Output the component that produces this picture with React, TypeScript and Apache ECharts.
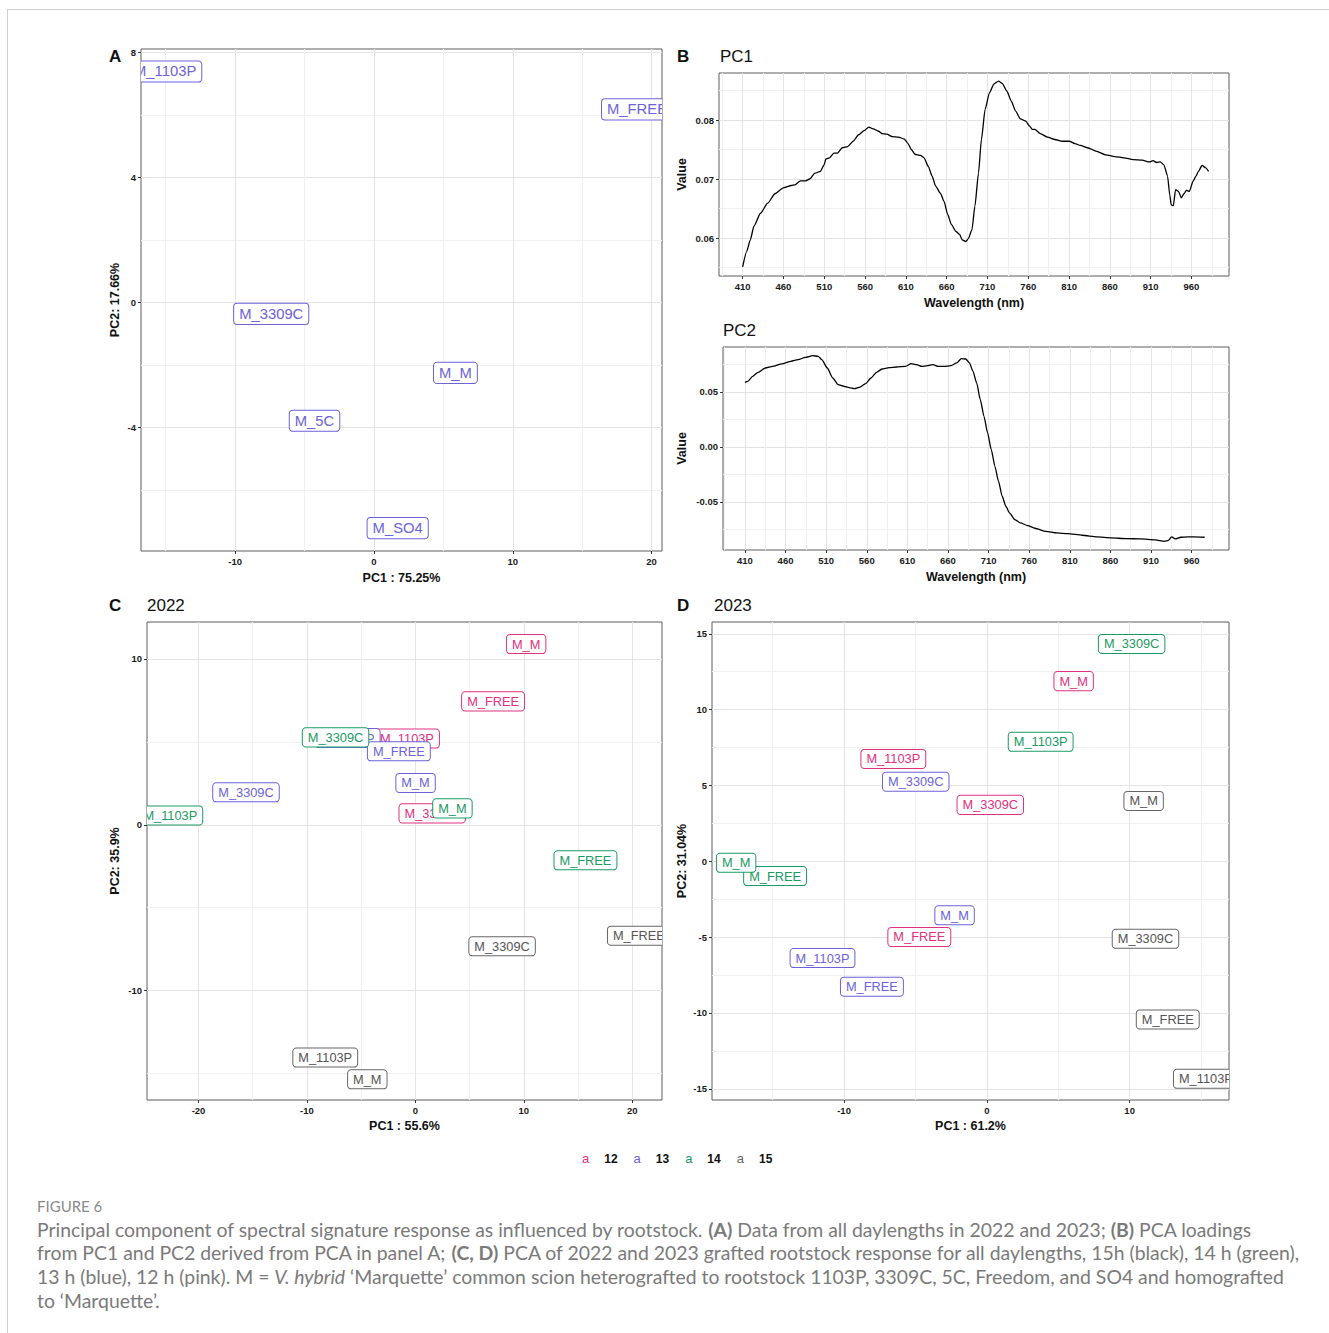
import React, { useEffect, useRef } from 'react';
import * as echarts from 'echarts';

// ---------------- DATA ----------------
const daylengths = ['12', '13', '14', '15'];
const dayColors = ['#E0307F', '#6C62D9', '#1B9A64', '#666666'];
const panelAColor = '#6C62D9';

// Panel A (all daylengths)
const labelsA = ['M_1103P', 'M_FREE', 'M_3309C', 'M_M', 'M_5C', 'M_SO4'];
const pc1A = [-15.04, 18.95, -7.4, 5.87, -4.28, 1.71];
const pc2A = [7.4, 6.19, -0.36, -2.25, -3.78, -7.22];

// Panel C (2022), one list per daylength (12,13,14,15)
const labelsC = [
  ['M_M', 'M_FREE', 'M_1103P', 'M_3309C'],
  ['M_1103P', 'M_FREE', 'M_M', 'M_3309C'],
  ['M_3309C', 'M_1103P', 'M_M', 'M_FREE'],
  ['M_FREE', 'M_3309C', 'M_1103P', 'M_M'],
];
const pc1C = [
  [10.22, 7.17, -0.77, 1.56],
  [-6.24, -1.52, 0.02, -15.62],
  [-7.36, -22.6, 3.42, 15.69],
  [20.62, 8.0, -8.31, -4.43],
];
const pc2C = [
  [10.9, 7.44, 5.2, 0.69],
  [5.23, 4.43, 2.52, 1.96],
  [5.27, 0.56, 0.99, -2.14],
  [-6.69, -7.33, -14.04, -15.35],
];

// Panel D (2023)
const labelsD = [
  ['M_M', 'M_1103P', 'M_3309C', 'M_FREE'],
  ['M_3309C', 'M_M', 'M_1103P', 'M_FREE'],
  ['M_3309C', 'M_1103P', 'M_FREE', 'M_M'],
  ['M_M', 'M_3309C', 'M_FREE', 'M_1103P'],
];
const pc1D = [
  [6.08, -6.55, 0.24, -4.73],
  [-4.98, -2.26, -11.51, -8.05],
  [10.14, 3.77, -14.83, -17.56],
  [10.98, 11.11, 12.67, 15.34],
];
const pc2D = [
  [11.88, 6.75, 3.72, -4.99],
  [5.25, -3.56, -6.38, -8.27],
  [14.33, 7.88, -0.97, -0.1],
  [3.98, -5.11, -10.43, -14.34],
];

// Panel B loadings
const wlPC1 = [410, 414.9, 419.4, 423.8, 431.8, 440.7, 449.6, 459.9, 469.7, 474, 480.8, 487.5, 492, 498.6, 505.3, 509.8, 512, 516.5, 521.8, 526.3, 532, 538.7, 545.4, 552, 558.8, 564.6, 569.9, 576.6, 581, 586.8, 593, 601, 607.8, 612.2, 616.7, 621.1, 627.8, 632.3, 637.6, 642.1, 646.5, 652.3, 656.8, 661.2, 665.7, 671.5, 675.9, 679, 683.5, 686.6, 691, 694.6, 699, 702.6, 707.1, 712.4, 717.8, 723.6, 728, 733.8, 739.2, 744.5, 750.3, 757, 761.4, 765, 768, 774.8, 783.7, 792.6, 801.5, 810.4, 817.1, 823.8, 832.7, 843.8, 855, 866, 877.3, 888.4, 899.5, 908.4, 912.9, 917.3, 921.8, 926.2, 930.7, 933.4, 935.2, 937.8, 940.5, 944.1, 947.6, 950.8, 953.9, 957.4, 961.9, 965.5, 968.6, 973, 977.5, 981];
const valPC1 = [0.0551, 0.0577, 0.0597, 0.062, 0.0642, 0.0659, 0.0675, 0.0685, 0.0689, 0.069, 0.0697, 0.0697, 0.07, 0.071, 0.0713, 0.0724, 0.0734, 0.0736, 0.0744, 0.0744, 0.0753, 0.0755, 0.0764, 0.0775, 0.0782, 0.0788, 0.0785, 0.0781, 0.0777, 0.0776, 0.0772, 0.0771, 0.0768, 0.0761, 0.075, 0.0742, 0.074, 0.0736, 0.0721, 0.0705, 0.0688, 0.0676, 0.0662, 0.064, 0.0623, 0.0611, 0.0606, 0.0597, 0.0594, 0.0599, 0.0614, 0.0654, 0.071, 0.0767, 0.0818, 0.0846, 0.0861, 0.0866, 0.0862, 0.0849, 0.0832, 0.0815, 0.0802, 0.0798, 0.079, 0.0784, 0.0784, 0.0777, 0.0771, 0.0767, 0.0764, 0.0764, 0.076, 0.0757, 0.0753, 0.0747, 0.0741, 0.0738, 0.0736, 0.0733, 0.0732, 0.0729, 0.0731, 0.0728, 0.0729, 0.0724, 0.0705, 0.0673, 0.0656, 0.0655, 0.0682, 0.0679, 0.0668, 0.0675, 0.0681, 0.0679, 0.0696, 0.0705, 0.0713, 0.0723, 0.0719, 0.0713];
const wlPC2 = [410, 413.6, 419.4, 426.2, 435.1, 444.1, 455.3, 466.5, 475.5, 484.5, 493.4, 500.2, 504.7, 511.4, 518.1, 524.8, 531.6, 538.3, 545, 551.8, 558.5, 565.2, 572, 578.7, 587.7, 596.6, 607.8, 614.6, 621.3, 628, 634.8, 641.5, 648.2, 655, 663.9, 670.7, 676.5, 681.9, 686.4, 690.8, 695.3, 699.8, 704.3, 708.8, 713.3, 717.8, 722.2, 726.7, 731.2, 735.7, 742.4, 749.2, 758.1, 767.1, 780.6, 794, 807.5, 825.4, 843.4, 861.3, 879.3, 897.2, 915.2, 926.4, 930.9, 935.4, 939.8, 946.6, 955.5, 962.3, 976];
const valPC2 = [0.0588, 0.0597, 0.0642, 0.0679, 0.0718, 0.0733, 0.0755, 0.0779, 0.0794, 0.0815, 0.083, 0.0824, 0.0794, 0.0718, 0.0627, 0.0567, 0.0552, 0.0539, 0.053, 0.0545, 0.0576, 0.0627, 0.0679, 0.0709, 0.0721, 0.0727, 0.0733, 0.0758, 0.0748, 0.0733, 0.0739, 0.0748, 0.0733, 0.0733, 0.0739, 0.0764, 0.0803, 0.08, 0.0764, 0.0688, 0.0582, 0.043, 0.0279, 0.0127, -0.0024, -0.0176, -0.0312, -0.0448, -0.0539, -0.06, -0.0661, -0.0691, -0.0715, -0.0739, -0.0767, -0.0782, -0.0788, -0.0803, -0.0818, -0.0827, -0.0833, -0.0836, -0.0845, -0.0858, -0.0852, -0.0818, -0.0836, -0.0821, -0.0818, -0.0818, -0.0821];

// Tick values
const ticksA_x = [-10, 0, 10, 20];
const minorA_x = [-15, -5, 5, 15];
const ticksA_y = [-4, 0, 4, 8];
const minorA_y = [-6, -2, 2, 6];
const ticksB_x = [410, 460, 510, 560, 610, 660, 710, 760, 810, 860, 910, 960];
const minorB_x = [385, 435, 485, 535, 585, 635, 685, 735, 785, 835, 885, 935, 985];
const ticksB1_y = [0.06, 0.07, 0.08];
const minorB1_y = [0.055, 0.065, 0.075, 0.085];
const ticksB2_y = [-0.05, 0, 0.05];
const minorB2_y = [-0.075, -0.025, 0.025, 0.075];
const ticksC_x = [-20, -10, 0, 10, 20];
const minorC_x = [-15, -5, 5, 15];
const ticksC_y = [-10, 0, 10];
const minorC_y = [-15, -5, 5];
const ticksD_x = [-10, 0, 10];
const minorD_x = [-15, -5, 5, 15];
const ticksD_y = [-15, -10, -5, 0, 5, 10, 15];
const minorD_y = [-12.5, -7.5, -2.5, 2.5, 7.5, 12.5];

const captionLines = [
  'Principal component of spectral signature response as influenced by rootstock. {b|(A)} Data from all daylengths in 2022 and 2023; {b|(B)} PCA loadings',
  'from PC1 and PC2 derived from PCA in panel A; {b|(C, D)} PCA of 2022 and 2023 grafted rootstock response for all daylengths, 15h (black), 14 h (green),',
  '13 h (blue), 12 h (pink). M = {i|V. hybrid} \u2018Marquette\u2019 common scion heterografted to rootstock 1103P, 3309C, 5C, Freedom, and SO4 and homografted',
  'to \u2018Marquette\u2019.',
];

// ---------------- LAYOUT / STYLE ----------------
const FONT = "'Liberation Sans', Arial, Helvetica, sans-serif";
const CAPFONT = "Lato, 'Open Sans', sans-serif";
const CAPSIZE = 19.4;

type PanelSpec = {
  grid: { left: number; top: number; width: number; height: number };
  xMin: number; xMax: number; xTicks: number[]; xMinor: number[]; xName: string; xGap: number;
  yMin: number; yMax: number; yTicks: number[]; yMinor: number[]; yName: string; yGap: number;
  fmt?: (v: number) => string;
};

const panels: PanelSpec[] = [
  { grid: { left: 141, top: 49, width: 521, height: 502 },
    xMin: -16.78, xMax: 20.75, xTicks: ticksA_x, xMinor: minorA_x, xName: 'PC1 : 75.25%', xGap: 20,
    yMin: -7.95, yMax: 8.12, yTicks: ticksA_y, yMinor: minorA_y, yName: 'PC2: 17.66%', yGap: 20 },
  { grid: { left: 719, top: 73, width: 510, height: 203 },
    xMin: 381, xMax: 1006, xTicks: ticksB_x, xMinor: minorB_x, xName: 'Wavelength (nm)', xGap: 20,
    yMin: 0.05356, yMax: 0.08797, yTicks: ticksB1_y, yMinor: minorB1_y, yName: 'Value', yGap: 31,
    fmt: (v) => v.toFixed(2) },
  { grid: { left: 723, top: 347, width: 506, height: 203 },
    xMin: 383, xMax: 1006, xTicks: ticksB_x, xMinor: minorB_x, xName: 'Wavelength (nm)', xGap: 20,
    yMin: -0.0937, yMax: 0.0909, yTicks: ticksB2_y, yMinor: minorB2_y, yName: 'Value', yGap: 35,
    fmt: (v) => v.toFixed(2) },
  { grid: { left: 147, top: 622, width: 515, height: 478 },
    xMin: -24.75, xMax: 22.75, xTicks: ticksC_x, xMinor: minorC_x, xName: 'PC1 : 55.6%', xGap: 19,
    yMin: -16.6, yMax: 12.23, yTicks: ticksC_y, yMinor: minorC_y, yName: 'PC2: 35.9%', yGap: 26 },
  { grid: { left: 712, top: 622, width: 517, height: 478 },
    xMin: -19.25, xMax: 16.96, xTicks: ticksD_x, xMinor: minorD_x, xName: 'PC1 : 61.2%', xGap: 19,
    yMin: -15.74, yMax: 15.78, yTicks: ticksD_y, yMinor: minorD_y, yName: 'PC2: 31.04%', yGap: 24 },
];

const tickLabelStyle = { fontSize: 9.5, fontWeight: 'bold' as const, color: '#1a1a1a', fontFamily: FONT };
const axisNameStyle = { fontSize: 12.5, fontWeight: 'bold' as const, color: '#111', fontFamily: FONT };

// helper axis drawing only grid lines at given values
function gridAxis(g: number, min: number, max: number, pos: string, values: number[], color: string) {
  return {
    type: 'value', gridIndex: g, min, max, position: pos,
    axisLine: { show: false, onZero: false },
    axisTick: { show: false, customValues: values },
    axisLabel: { show: false, customValues: values },
    splitLine: { show: true, lineStyle: { color, width: 1 } }, z: 0,
  };
}

function buildAxes() {
  const grids: any[] = [];
  const xAxes: any[] = [];
  const yAxes: any[] = [];
  panels.forEach((p, g) => {
    grids.push({ ...p.grid, show: true, borderColor: '#5c5c5c', borderWidth: 1, backgroundColor: 'transparent', containLabel: false });
    // main x: ticks + labels + title
    xAxes.push({
      type: 'value', gridIndex: g, min: p.xMin, max: p.xMax, position: 'bottom',
      axisLine: { show: false, onZero: false },
      axisTick: { show: true, length: 3, lineStyle: { color: '#333' }, customValues: p.xTicks },
      axisLabel: { ...tickLabelStyle, margin: 5, customValues: p.xTicks },
      splitLine: { show: false },
      name: p.xName, nameLocation: 'middle', nameGap: p.xGap, nameTextStyle: axisNameStyle, z: 2,
    });
    xAxes.push(gridAxis(g, p.xMin, p.xMax, 'bottom', p.xTicks, '#E4E4E4'));
    xAxes.push(gridAxis(g, p.xMin, p.xMax, 'bottom', p.xMinor, '#F0F0F0'));
    yAxes.push({
      type: 'value', gridIndex: g, min: p.yMin, max: p.yMax, position: 'left',
      axisLine: { show: false, onZero: false },
      axisTick: { show: true, length: 3, lineStyle: { color: '#333' }, customValues: p.yTicks },
      axisLabel: { ...tickLabelStyle, margin: 5, customValues: p.yTicks, formatter: p.fmt },
      splitLine: { show: false },
      name: p.yName, nameLocation: 'middle', nameGap: p.yGap, nameRotate: 90, nameTextStyle: axisNameStyle, z: 2,
    });
    yAxes.push(gridAxis(g, p.yMin, p.yMax, 'left', p.yTicks, '#E4E4E4'));
    yAxes.push(gridAxis(g, p.yMin, p.yMax, 'left', p.yMinor, '#F0F0F0'));
  });
  return { grids, xAxes, yAxes };
}

function labelSeries(name: string, panel: number, xs: number[], ys: number[], labels: string[], color: string, big: boolean) {
  const fontSize = big ? 14.8 : 12.8;
  const textColor = color === '#666666' ? '#555555' : color;
  return {
    type: 'custom', name, xAxisIndex: panel * 3, yAxisIndex: panel * 3, clip: true, z: 5,
    data: xs.map((x, i) => [x, ys[i]]),
    renderItem: (params: any, api: any) => {
      const pt = api.coord([api.value(0), api.value(1)]);
      return {
        type: 'text', x: pt[0], y: pt[1],
        style: {
          text: labels[params.dataIndex],
          fill: textColor,
          font: `${fontSize}px ${FONT}`,
          align: 'center', verticalAlign: 'middle',
          lineHeight: big ? 15 : 13.5,
          backgroundColor: '#ffffff',
          borderColor: color, borderWidth: 1, borderRadius: 3,
          padding: big ? [2.6, 5] : [2.3, 5],
        },
      };
    },
  };
}

function txt(x: number, y: number, text: string, size: number, weight = 'normal', color = '#111') {
  return { type: 'text', x, y, silent: true, style: { text, fill: color, font: `${weight} ${size}px ${FONT}`, align: 'left', verticalAlign: 'middle' } };
}

function buildOption() {
  const { grids, xAxes, yAxes } = buildAxes();
  const series: any[] = [];
  series.push(labelSeries('A', 0, pc1A, pc2A, labelsA, panelAColor, true));
  series.push({
    type: 'line', name: 'PC1 loading', xAxisIndex: 3, yAxisIndex: 3, data: wlPC1.map((w, i) => [w, valPC1[i]]),
    symbol: 'none', smooth: 0.2, smoothMonotone: 'x', lineStyle: { color: '#000', width: 1.3 }, silent: true, z: 3,
  });
  series.push({
    type: 'line', name: 'PC2 loading', xAxisIndex: 6, yAxisIndex: 6, data: wlPC2.map((w, i) => [w, valPC2[i]]),
    symbol: 'none', smooth: 0.2, smoothMonotone: 'x', lineStyle: { color: '#000', width: 1.3 }, silent: true, z: 3,
  });
  daylengths.forEach((d, k) => {
    series.push(labelSeries(d, 3, pc1C[k], pc2C[k], labelsC[k], dayColors[k], false));
  });
  daylengths.forEach((d, k) => {
    series.push(labelSeries(d, 4, pc1D[k], pc2D[k], labelsD[k], dayColors[k], false));
  });

  const rich: any = { s: { width: 15 }, n: { fontWeight: 'bold', fontSize: 12, color: '#111', fontFamily: FONT } };
  daylengths.forEach((d, k) => { rich['c' + d] = { color: dayColors[k], fontSize: 13, fontFamily: FONT }; });

  const capBase = `${CAPSIZE}px ${CAPFONT}`;
  const capRich = {
    b: { font: `bold ${CAPSIZE}px ${CAPFONT}`, fill: '#7a7a7a' },
    i: { font: `italic ${CAPSIZE}px ${CAPFONT}`, fill: '#7a7a7a' },
  };

  const graphics: any[] = [
    txt(109, 56, 'A', 17, 'bold'),
    txt(677, 56, 'B', 17, 'bold'),
    txt(720, 56, 'PC1', 17),
    txt(723, 330, 'PC2', 17),
    txt(109, 605, 'C', 17, 'bold'),
    txt(147, 605, '2022', 17),
    txt(677, 605, 'D', 17, 'bold'),
    txt(714, 605, '2023', 17),
    { type: 'text', x: 37, y: 1206, silent: true, style: { text: 'FIGURE 6', fill: '#8a8a8a', font: `15px ${CAPFONT}`, verticalAlign: 'middle' } },
  ];
  captionLines.forEach((line, i) => {
    graphics.push({ type: 'text', x: 37, y: 1229 + i * 23.7, silent: true,
      style: { text: line, fill: '#7a7a7a', font: capBase, verticalAlign: 'middle', rich: capRich } });
  });

  return {
    animation: false,
    backgroundColor: 'transparent',
    grid: grids,
    xAxis: xAxes,
    yAxis: yAxes,
    legend: {
      data: daylengths, left: 572, top: 1147, orient: 'horizontal',
      itemWidth: 0, itemHeight: 0, itemGap: 11, icon: 'rect', selectedMode: false,
      formatter: (name: string) => `{c${name}|a}{s|}{n|${name}}`,
      textStyle: { rich },
    },
    graphic: { elements: graphics },
    series,
  };
}

export default function App() {
  const ref = useRef<HTMLDivElement>(null);
  useEffect(() => {
    const chart = echarts.init(ref.current!, null, { renderer: 'svg' });
    chart.setOption(buildOption() as any);
    return () => chart.dispose();
  }, []);
  return (
    <div style={{ position: 'absolute', left: 0, top: 0, width: 1329, height: 1333, overflow: 'hidden', background: '#fff' }}>
      <div style={{ position: 'absolute', left: 7, top: 9, width: 1400, height: 1400, borderTop: '1px solid #cfcfcf', borderLeft: '1px solid #cfcfcf' }} />
      <div ref={ref} style={{ position: 'absolute', left: 0, top: 0, width: 1329, height: 1333 }} />
    </div>
  );
}
